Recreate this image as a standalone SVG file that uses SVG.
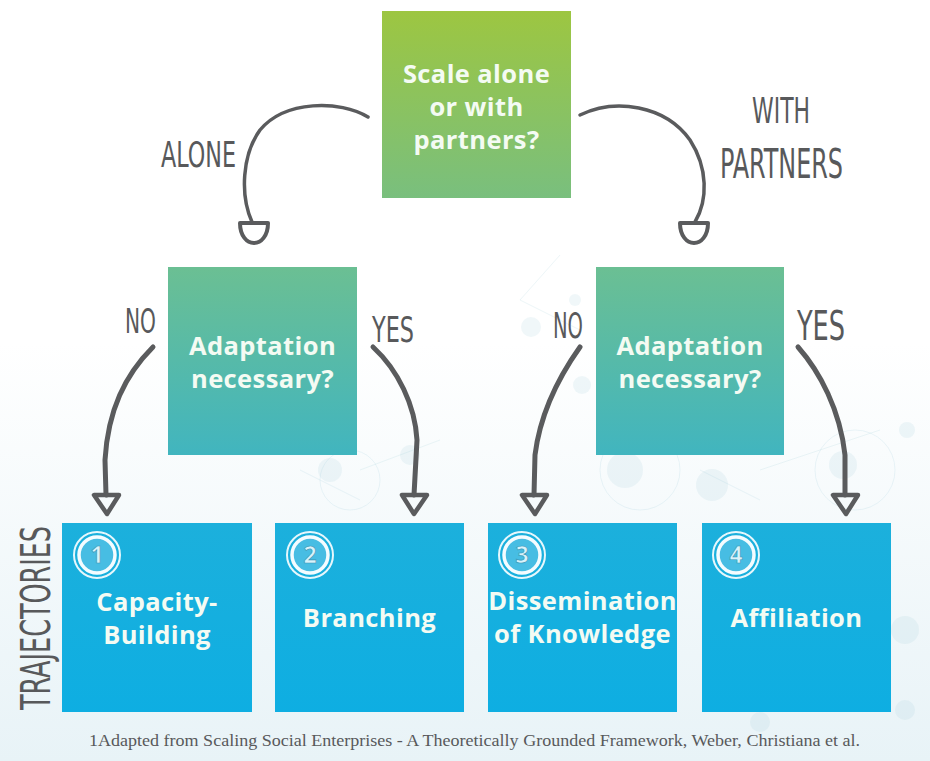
<svg xmlns="http://www.w3.org/2000/svg" width="930" height="761" viewBox="0 0 930 761">
  <defs>
    <linearGradient id="bg" x1="0" y1="0" x2="0" y2="1">
      <stop offset="0" stop-color="#ffffff"/>
      <stop offset="0.45" stop-color="#ffffff"/>
      <stop offset="1" stop-color="#e8f3f7"/>
    </linearGradient>
    <linearGradient id="gTop" x1="0" y1="0" x2="0" y2="1">
      <stop offset="0" stop-color="#9dc641"/>
      <stop offset="1" stop-color="#79bf7e"/>
    </linearGradient>
    <linearGradient id="gMid" x1="0" y1="0" x2="0" y2="1">
      <stop offset="0" stop-color="#6bbf93"/>
      <stop offset="1" stop-color="#41b5bf"/>
    </linearGradient>
    <linearGradient id="gTraj" x1="0" y1="0" x2="0" y2="1">
      <stop offset="0" stop-color="#1cb0dc"/>
      <stop offset="1" stop-color="#0eaee2"/>
    </linearGradient>
    <style>
      .box-text { font-family: "Open Sans", "DejaVu Sans", sans-serif; font-weight: 700; font-size: 25.5px; fill: #f4fbf3; text-anchor: middle; letter-spacing: 0.4px; }
      .hand { font-family: "DejaVu Sans Condensed", "DejaVu Sans", sans-serif; font-weight: 400; fill: #58595b; }
      .conn { fill: none; stroke: #5a5b5d; stroke-linecap: round; stroke-linejoin: round; }
      .cup { fill: #ffffff; stroke: #5a5b5d; stroke-width: 4; stroke-linejoin: round; }
      .head { fill: none; stroke: #5a5b5d; stroke-width: 4.5; stroke-linejoin: round; stroke-linecap: round; }
      .badge-outer { fill: none; stroke: #e6f7fc; stroke-width: 2; }
      .badge-inner { fill: #47bde3; stroke: #f4fcff; stroke-width: 3.5; }
      .badge-num { font-family: "Open Sans", "DejaVu Sans", sans-serif; font-weight: 700; font-size: 23px; fill: #d9f3fb; stroke: #3a98b8; stroke-width: 0.7; text-anchor: middle; }
      .deco { fill: #9fcfdc; opacity: 0.16; }
      .deco-ring { fill: none; stroke: #a8d3de; stroke-width: 1; opacity: 0.22; }
      .deco-line { stroke: #a8d3de; stroke-width: 1; opacity: 0.2; }
    </style>
  </defs>

  <rect x="0" y="0" width="930" height="761" fill="url(#bg)"/>

  <g id="background-network">
    <line class="deco-line" x1="560" y1="255" x2="520" y2="300"/>
    <line class="deco-line" x1="520" y1="300" x2="580" y2="330"/>
    <line class="deco-line" x1="700" y1="470" x2="760" y2="500"/>
    <line class="deco-line" x1="760" y1="470" x2="880" y2="430"/>
    <line class="deco-line" x1="300" y1="470" x2="360" y2="500"/>
    <line class="deco-line" x1="360" y1="470" x2="440" y2="440"/>
    <circle class="deco" cx="531" cy="327" r="10"/>
    <circle class="deco" cx="575" cy="300" r="6"/>
    <circle class="deco" cx="582" cy="385" r="9"/>
    <circle class="deco" cx="625" cy="470" r="18"/>
    <circle class="deco" cx="712" cy="485" r="16"/>
    <circle class="deco" cx="843" cy="465" r="14"/>
    <circle class="deco" cx="907" cy="430" r="8"/>
    <circle class="deco" cx="330" cy="470" r="12"/>
    <circle class="deco" cx="410" cy="455" r="10"/>
    <circle class="deco" cx="905" cy="630" r="14"/>
    <circle class="deco" cx="905" cy="710" r="10"/>
    <circle class="deco" cx="760" cy="722" r="10"/>
    <circle class="deco-ring" cx="855" cy="470" r="40"/>
    <circle class="deco-ring" cx="640" cy="470" r="40"/>
    <circle class="deco-ring" cx="350" cy="480" r="30"/>
  </g>

  <g id="connectors">
    <path class="conn" stroke-width="3.5" d="M368,117 C340,100 285,100 260,130 C242,155 240,195 252,222"/>
    <path class="cup" d="M240,223 L268,223 C268,236 261,243 254,243 C247,243 240,236 240,223 Z"/>
    <path class="conn" stroke-width="3.5" d="M580,115 C615,98 665,105 690,140 C708,168 708,200 695,222"/>
    <path class="cup" d="M680,223 L708,223 C708,236 701,243 694,243 C687,243 680,236 680,223 Z"/>

    <path class="conn" stroke-width="5" d="M153,347 C125,375 108,410 105,460 L106,495"/>
    <path class="head" d="M94,495 L119,495 L107,514 Z"/>
    <path class="conn" stroke-width="5" d="M373,347 C398,370 415,405 417,440 L414,495"/>
    <path class="head" d="M402,495 L427,495 L414,514 Z"/>
    <path class="conn" stroke-width="5" d="M580,347 C558,378 540,415 535,455 L534,495"/>
    <path class="head" d="M522,495 L547,495 L535,514 Z"/>
    <path class="conn" stroke-width="5" d="M798,347 C820,372 840,410 845,455 L845,495"/>
    <path class="head" d="M833,495 L858,495 L846,514 Z"/>

    <text class="hand" x="161" y="167" font-size="36" textLength="75" lengthAdjust="spacingAndGlyphs">ALONE</text>
    <text class="hand" x="752" y="123" font-size="36" textLength="58" lengthAdjust="spacingAndGlyphs">WITH</text>
    <text class="hand" x="720" y="178" font-size="40" textLength="123" lengthAdjust="spacingAndGlyphs">PARTNERS</text>
    <text class="hand" x="125" y="333" font-size="33" textLength="31" lengthAdjust="spacingAndGlyphs">NO</text>
    <text class="hand" x="372" y="342" font-size="35" textLength="42" lengthAdjust="spacingAndGlyphs">YES</text>
    <text class="hand" x="553" y="338" font-size="36" textLength="30" lengthAdjust="spacingAndGlyphs">NO</text>
    <text class="hand" x="797" y="340" font-size="40" textLength="48" lengthAdjust="spacingAndGlyphs">YES</text>
  </g>

  <g id="node-scale">
    <rect x="382" y="11" width="189" height="187" fill="url(#gTop)"/>
    <text class="box-text" x="476.5" y="83">Scale alone</text>
    <text class="box-text" x="476.5" y="116">or with</text>
    <text class="box-text" x="476.5" y="149">partners?</text>
  </g>

  <g id="node-adapt-alone">
    <rect x="168" y="267" width="189" height="188" fill="url(#gMid)"/>
    <text class="box-text" x="262.5" y="355">Adaptation</text>
    <text class="box-text" x="262.5" y="388">necessary?</text>
  </g>

  <g id="node-adapt-partners">
    <rect x="596" y="267" width="188" height="188" fill="url(#gMid)"/>
    <text class="box-text" x="690" y="355">Adaptation</text>
    <text class="box-text" x="690" y="388">necessary?</text>
  </g>

  <g id="label-trajectories">
    <text class="hand" transform="translate(50,618) rotate(-90)" x="0" y="0" font-size="40" text-anchor="middle" textLength="184" lengthAdjust="spacingAndGlyphs">TRAJECTORIES</text>
  </g>

  <g id="node-capacity-building">
    <rect x="62" y="523" width="190" height="189" fill="url(#gTraj)"/>
    <circle class="badge-outer" cx="97" cy="555" r="23"/>
    <circle class="badge-inner" cx="97" cy="555" r="18"/>
    <text class="badge-num" x="97" y="563">1</text>
    <text class="box-text" x="157" y="611">Capacity-</text>
    <text class="box-text" x="157" y="644">Building</text>
  </g>

  <g id="node-branching">
    <rect x="275" y="523" width="189" height="189" fill="url(#gTraj)"/>
    <circle class="badge-outer" cx="310" cy="555" r="23"/>
    <circle class="badge-inner" cx="310" cy="555" r="18"/>
    <text class="badge-num" x="310" y="563">2</text>
    <text class="box-text" x="369.5" y="627">Branching</text>
  </g>

  <g id="node-dissemination">
    <rect x="488" y="523" width="189" height="189" fill="url(#gTraj)"/>
    <circle class="badge-outer" cx="522" cy="555" r="23"/>
    <circle class="badge-inner" cx="522" cy="555" r="18"/>
    <text class="badge-num" x="522" y="563">3</text>
    <text class="box-text" x="582.5" y="610">Dissemination</text>
    <text class="box-text" x="582.5" y="643">of Knowledge</text>
  </g>

  <g id="node-affiliation">
    <rect x="702" y="523" width="189" height="189" fill="url(#gTraj)"/>
    <circle class="badge-outer" cx="736" cy="555" r="23"/>
    <circle class="badge-inner" cx="736" cy="555" r="18"/>
    <text class="badge-num" x="736" y="563">4</text>
    <text class="box-text" x="796.5" y="627">Affiliation</text>
  </g>

  <g id="footnote">
    <text x="89" y="746" font-family="Liberation Serif, serif" font-size="16" fill="#58595b" textLength="771" lengthAdjust="spacingAndGlyphs">1Adapted from Scaling Social Enterprises - A Theoretically Grounded Framework, Weber, Christiana et al.</text>
  </g>
</svg>
